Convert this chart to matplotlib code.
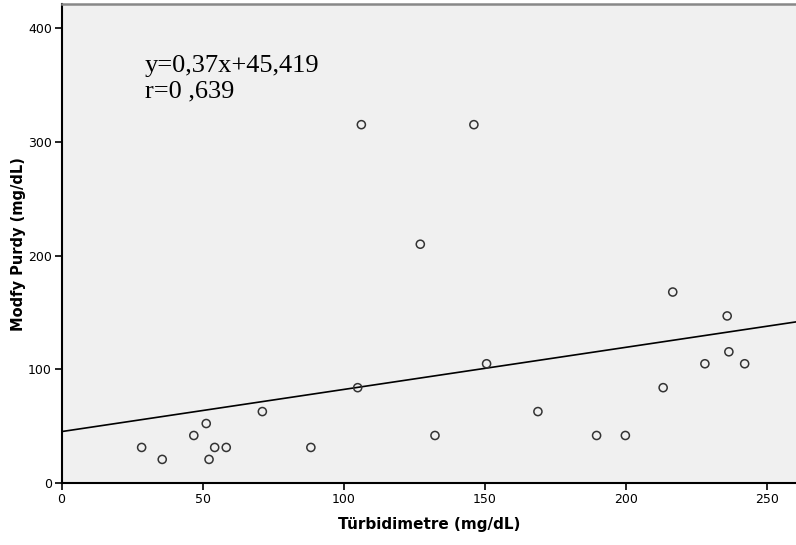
import numpy as np
import matplotlib.pyplot as plt

turb = [28.4, 35.7, 46.9, 51.3, 52.3, 54.3, 58.4, 71.2, 88.4, 105.0,
        106.3, 127.2, 132.4, 146.2, 150.7, 168.9, 189.7, 199.9, 213.3,
        216.7, 228.1, 236.0, 236.6, 242.2]
purdy = [31.5, 21.0, 42.0, 52.5, 21.0, 31.5, 31.5, 63.0, 31.5, 84.0,
         315.0, 210.0, 42.0, 315.0, 105.0, 63.0, 42.0, 42.0, 84.0,
         168.0, 105.0, 147.0, 115.5, 105.0]
slope = 0.37
intercept = 45.419
eq_text = "y=0,37x+45,419\nr=0 ,639"

fig = plt.figure(figsize=(7.96, 5.45), dpi=100)
ax = fig.add_axes([0.0773, 0.1132, 0.9227, 0.8795])
ax.set_facecolor("#f0f0f0")

ax.scatter(turb, purdy, s=34, facecolors="none", edgecolors="#333333",
           linewidths=1.1, zorder=3)
ax.axline((0, intercept), slope=slope, color="black", lw=1.2, zorder=2)

ax.set_xlim(0, 260.4)
ax.set_ylim(0, 421)
ax.set_xticks([0, 50, 100, 150, 200, 250])
ax.set_yticks([0, 100, 200, 300, 400])
ax.tick_params(direction="out", length=5, width=1.2, labelsize=9,
               colors="black", pad=2)

ax.spines["right"].set_visible(False)
ax.spines["top"].set_color("#888888")
ax.spines["top"].set_linewidth(1.8)
ax.spines["left"].set_linewidth(1.5)
ax.spines["bottom"].set_linewidth(1.5)

ax.set_xlabel("Türbidimetre (mg/dL)", fontsize=11, fontweight="bold",
              labelpad=8)
ax.set_ylabel("Modfy Purdy (mg/dL)", fontsize=10.5, fontweight="bold")
ax.yaxis.set_label_coords(-0.049, 0.5)

ax.text(0.113, 0.894, eq_text, transform=ax.transAxes, fontsize=19,
        family="Liberation Serif", va="top", ha="left", linespacing=1.2)

fig.savefig("out.png", dpi=100)
